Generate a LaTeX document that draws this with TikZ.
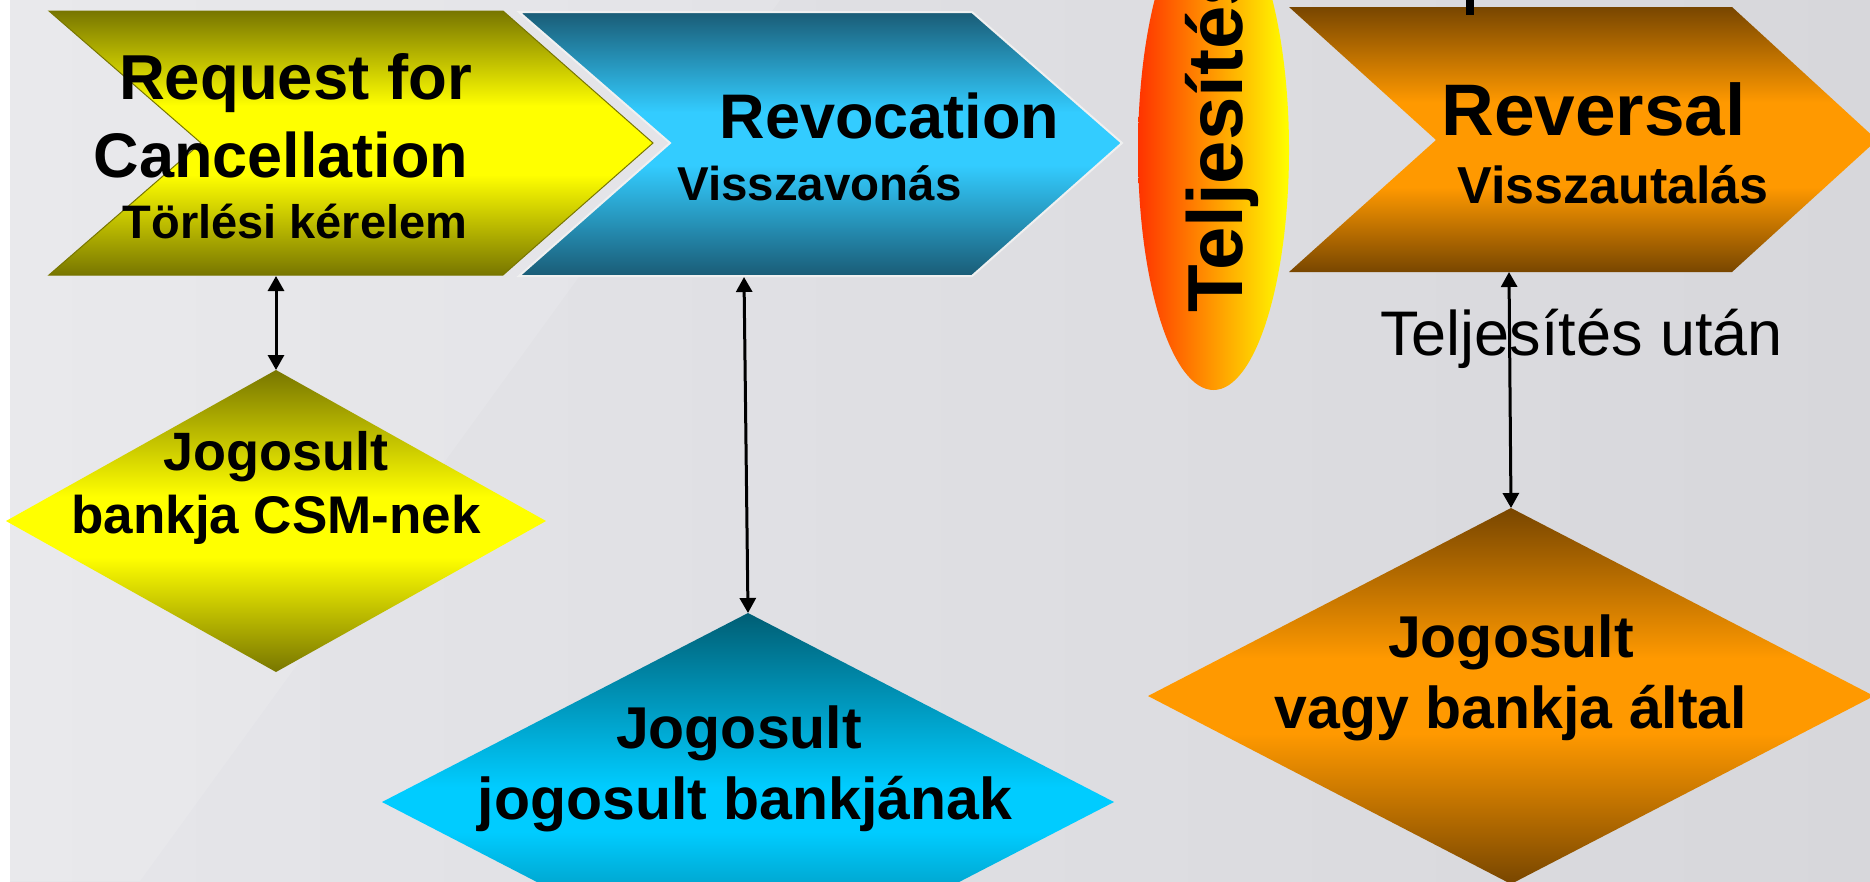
\documentclass[tikz,border=0pt]{standalone}
\usepackage{fontspec}
\setmainfont{Liberation Sans}
\usetikzlibrary{shapes.geometric,arrows.meta}
\definecolor{bgl}{HTML}{E6E6EA}
\definecolor{bgr}{HTML}{D7D7DB}
\definecolor{ydk}{HTML}{787600}
\definecolor{ylt}{HTML}{FFFF00}
\definecolor{bcdk}{HTML}{1A5C76}
\definecolor{bclt}{HTML}{33CCFF}
\definecolor{bddk}{HTML}{005E74}
\definecolor{bdlt}{HTML}{00CCFF}
\definecolor{odk}{HTML}{784600}
\definecolor{olt}{HTML}{FF9900}
\definecolor{elr}{HTML}{FF3300}
\definecolor{ely}{HTML}{FFFF00}
\pgfdeclareverticalshading{ychsh}{100bp}{color(0bp)=(ydk); color(25bp)=(ydk); color(44bp)=(ylt); color(57bp)=(ylt); color(75bp)=(ydk); color(100bp)=(ydk)}
\pgfdeclareverticalshading{bchsh}{100bp}{color(0bp)=(bcdk); color(25bp)=(bcdk); color(46bp)=(bclt); color(56bp)=(bclt); color(75bp)=(bcdk); color(100bp)=(bcdk)}
\pgfdeclareverticalshading{ochsh}{100bp}{color(0bp)=(odk); color(25bp)=(odk); color(41bp)=(olt); color(57bp)=(olt); color(75bp)=(odk); color(100bp)=(odk)}
\pgfdeclareverticalshading{ydsh}{100bp}{color(0bp)=(ydk); color(25bp)=(ydk); color(44bp)=(ylt); color(54bp)=(ylt); color(75bp)=(ydk); color(100bp)=(ydk)}
\pgfdeclareverticalshading{bdsh}{100bp}{color(0bp)=(bddk); color(25bp)=(bddk); color(46bp)=(bdlt); color(52bp)=(bdlt); color(75bp)=(bddk); color(100bp)=(bddk)}
\pgfdeclareverticalshading{odsh}{100bp}{color(0bp)=(odk); color(25bp)=(odk); color(45bp)=(olt); color(55bp)=(olt); color(75bp)=(odk); color(100bp)=(odk)}
\newcommand\fsz[1]{\fontsize{#1}{#1}\selectfont}
\tikzset{
  txt/.style={inner sep=0pt, outer sep=0pt, anchor=base},
  dia/.style={diamond, inner sep=0pt, outer sep=0pt},
  conn/.style={{Triangle[length=15pt,width=16pt]}-{Triangle[length=15pt,width=16pt]}, line width=3pt, black}
}
\begin{document}
\begin{tikzpicture}[x=1pt,y=1pt]
\useasboundingbox (0,0) rectangle (1870,-881);
\clip (0,0) rectangle (1870,-881);
% background
\fill[white] (0,0) rectangle (1870,-881);
\shade[left color=bgl, right color=bgr] (10,0) rectangle (1870,-881);
\fill[white, opacity=0.12] (10,0) -- (780,0) -- (140,-881) -- (10,-881) -- cycle;
% chevrons
\path[shading=ychsh, draw=ydk, line width=1pt] (49,-11) -- (503,-11) -- (653,-143) -- (503,-275) -- (49,-275) -- (201,-143) -- cycle;
\path[shading=bchsh, draw=white!88!gray, line width=2pt] (519,-12) -- (972,-12) -- (1122,-143) -- (972,-276) -- (519,-276) -- (670,-143) -- cycle;
\path[shading=ochsh] (1289,-7) -- (1732,-7) -- (1877,-140) -- (1732,-272) -- (1289,-272) -- (1436,-140) -- cycle;
\fill[black] (1466,0) rectangle (1474,-15);
% ellipse
\path[left color=elr, right color=ely] (1213.5,-150) ellipse [x radius=75.5, y radius=240];
\node[inner sep=0pt, anchor=base west, rotate=90, font=\fsz{78}\bfseries] (tel) at (1242,-313) {Teljesítés};
% chevron texts
\node[txt, font=\fsz{63.5}\bfseries] (rq1) at (295.5,-99) {Request for};
\node[txt, font=\fsz{63}\bfseries] (rq2) at (281,-177) {Cancellation};
\node[txt, font=\fsz{47}\bfseries] (rq3) at (295,-238) {Törlési kérelem};
\node[txt, font=\fsz{63}\bfseries] (rv1) at (889.5,-138) {Revocation};
\node[txt, font=\fsz{47.5}\bfseries] (rv2) at (819.5,-200) {Visszavonás};
\node[txt, font=\fsz{73}\bfseries] (rs1) at (1593.5,-135) {Reversal};
\node[txt, font=\fsz{52}\bfseries] (rs2) at (1613,-203) {Visszautalás};
% diamonds
\node[dia, shading=ydsh, minimum width=540pt, minimum height=302pt] (ydia) at (276,-521) {};
\node[dia, shading=bdsh, minimum width=732pt, minimum height=378pt] (bdia) at (748,-802) {};
\node[dia, shading=odsh, minimum width=726pt, minimum height=376pt] (odia) at (1511,-696) {};
\node[txt, font=\fsz{54}\bfseries] (yd1) at (276,-470) {Jogosult};
\node[txt, font=\fsz{53}\bfseries] (yd2) at (276,-533) {bankja CSM-nek};
\node[txt, font=\fsz{59}\bfseries] (bd1) at (739,-748) {Jogosult};
\node[txt, font=\fsz{59}\bfseries] (bd2) at (745,-819) {jogosult bankjának};
\node[txt, font=\fsz{59}\bfseries] (od1) at (1511,-657) {Jogosult};
\node[txt, font=\fsz{59}\bfseries] (od2) at (1511,-728) {vagy bankja által};
% label
\node[inner sep=0pt, anchor=base west, font=\fsz{63}] (tu) at (1380,-355) {Teljesítés után};
% connectors
\coordinate (ychB) at (276,-276);
\coordinate (bchB) at (744,-277);
\coordinate (ochB) at (1509,-272);
\draw[conn] (ychB) -- (ydia.north);
\draw[conn] (bchB) -- (bdia.north);
\draw[conn] (ochB) -- (odia.north);
\end{tikzpicture}
\end{document}
